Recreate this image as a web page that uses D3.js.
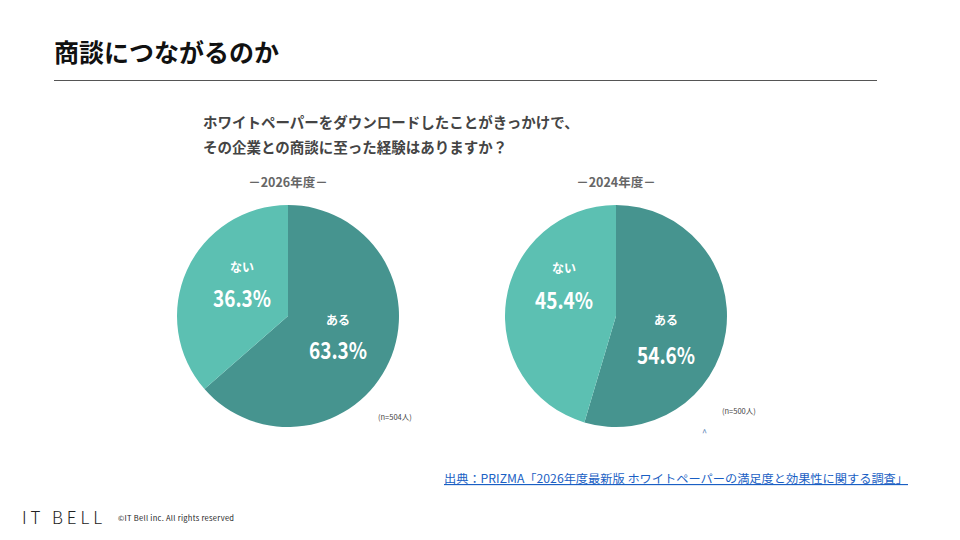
<!DOCTYPE html><html><head><meta charset="utf-8"><script src="https://cdn.jsdelivr.net/npm/d3@7"></script>
<style>body{margin:0;background:#fff}text{font-family:"Noto Sans CJK JP","Noto Sans",sans-serif}</style></head><body>
<svg id="c" width="960" height="540"></svg>
<script>
const categories=["ある","ない"];
const years=["－2026年度－","－2024年度－"];
const values2026=[63.3,36.3];
const values2024=[54.6,45.4];
const samples=["(n=504人)","(n=500人)"];
const colors=["#46948f","#5cc0b2"];
const svg=d3.select("#c");
svg.append("text").attr("x",54).attr("y",62).attr("font-size",25).attr("font-weight",700).attr("fill","#111").text("商談につながるのか");
svg.append("line").attr("x1",54).attr("x2",877).attr("y1",80.5).attr("y2",80.5).attr("stroke","#555").attr("stroke-width",1);
svg.append("text").attr("x",203).attr("y",128).attr("font-size",14.5).attr("font-weight",700).attr("fill","#444").text("ホワイトペーパーをダウンロードしたことがきっかけで、");
svg.append("text").attr("x",203).attr("y",153).attr("font-size",14.5).attr("font-weight",700).attr("fill","#444").text("その企業との商談に至った経験はありますか？");
const pies=[{cx:288,cy:316,v:values2026,lab:[[338,325,350],[242,272,298]],nx:378,ny:420},{cx:616,cy:316,v:values2024,lab:[[666,325,355],[564,273,300]],nx:722,ny:414}];
const pie=d3.pie().sort(null).value(d=>d);
const arc=d3.arc().innerRadius(0).outerRadius(111);
pies.forEach((p,i)=>{
  const g=svg.append("g").attr("transform",`translate(${p.cx},${p.cy})`);
  g.selectAll("path").data(pie(p.v)).join("path").attr("d",arc).attr("fill",(d,j)=>colors[j]);
  svg.append("text").attr("x",p.cx).attr("y",187).attr("text-anchor","middle").attr("font-size",12.5).attr("font-weight",700).attr("fill","#666").text(years[i]);
  p.v.forEach((v,j)=>{
    const [x,y1,y2]=p.lab[j];
    svg.append("text").attr("x",x).attr("y",y1).attr("text-anchor","middle").attr("font-size",12).attr("font-weight",700).attr("fill","#fff").text(categories[j]);
    svg.append("text").attr("x",x).attr("y",y2+9).attr("text-anchor","middle").attr("font-size",23).attr("font-weight",700).attr("font-family","DejaVu Sans Condensed").attr("fill","#fff").attr("textLength",58).attr("lengthAdjust","spacingAndGlyphs").text(v.toFixed(1)+"%");
  });
  svg.append("text").attr("x",p.nx).attr("y",p.ny).attr("font-size",7.5).attr("fill","#444").text(samples[i]);
});
svg.append("text").attr("x",702).attr("y",436).attr("font-size",9).attr("fill","#4a7ab0").text("^");
svg.append("text").attr("x",444).attr("y",483).attr("font-size",11.5).attr("fill","#1a5fc4").attr("text-decoration","underline").attr("textLength",464).attr("lengthAdjust","spacingAndGlyphs").text("出典：PRIZMA「2026年度最新版 ホワイトペーパーの満足度と効果性に関する調査」");
svg.append("text").attr("x",22).attr("y",524).attr("font-size",17).attr("fill","#222").attr("font-family","DejaVu Sans").attr("font-weight",300).attr("textLength",80).text("IT BELL");
svg.append("text").attr("x",118).attr("y",521).attr("font-size",7.5).attr("fill","#222").attr("textLength",116).text("©IT Bell inc. All rights reserved");
</script></body></html>
